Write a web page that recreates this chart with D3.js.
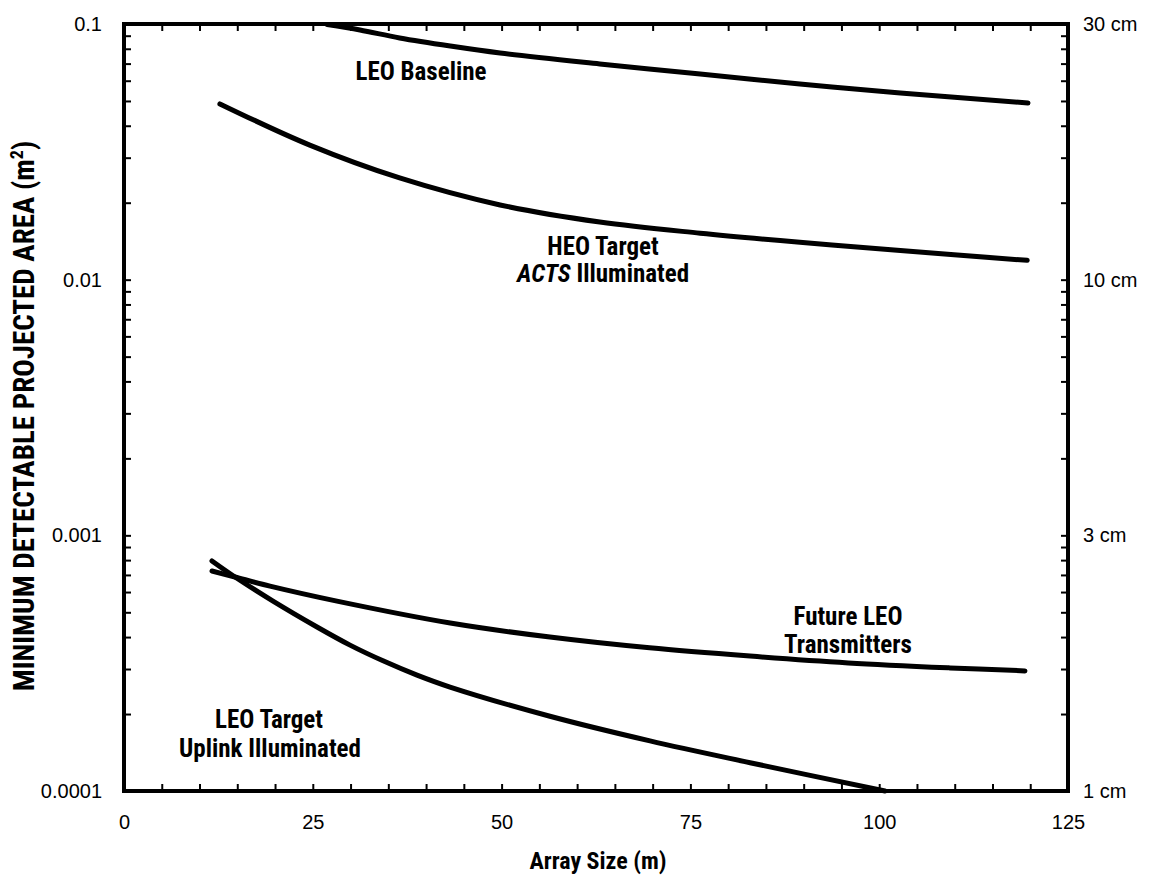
<!DOCTYPE html>
<html><head><meta charset="utf-8">
<script src="https://cdn.jsdelivr.net/npm/d3@7"></script>
<style>
body{margin:0;background:#fff}
svg{display:block}
.tick text{font-family:"Liberation Sans",Arial,sans-serif;font-size:20px;fill:#000}
.lbl{font-family:"Liberation Sans Narrow","Roboto Condensed","Liberation Sans",Arial,sans-serif;font-weight:bold;font-size:25px;fill:#000;font-stretch:condensed}
</style></head><body>
<script>
// ---- data ----
const xTicks = [0, 25, 50, 75, 100, 125];
const yTicks = [0.1, 0.01, 0.001, 0.0001];
const yTickLabels = ["0.1", "0.01", "0.001", "0.0001"];
const rightTickLabels = ["30 cm", "10 cm", "3 cm", "1 cm"];

const leoBaselineX = [26.9, 31.25, 36.5, 43.2, 49.8, 63.0, 76.3, 89.5, 102.8, 119.7];
const leoBaselineY = [0.0995, 0.0947, 0.0882, 0.0820, 0.0770, 0.0698, 0.0637, 0.0582, 0.0537, 0.0491];

const heoX = [12.7, 24.6, 36.5, 49.8, 63.0, 76.3, 89.5, 102.8, 119.6];
const heoY = [0.0487, 0.0336, 0.0250, 0.0196, 0.0168, 0.0152, 0.0140, 0.0130, 0.0119];

const futureLeoX = [11.65, 14.7, 19.33, 28.2, 43.2, 56.4, 69.6, 82.9, 95.9, 109.4, 119.3];
const futureLeoY = [0.000725, 0.000687, 0.000633, 0.000553, 0.000454, 0.000400, 0.000363, 0.000337, 0.000317, 0.000303, 0.000295];

const leoTargetX = [11.65, 14.7, 19.73, 25.56, 29.93, 34.3, 38.8, 43.17, 56.4, 69.65, 82.9, 100.77];
const leoTargetY = [0.000794, 0.000687, 0.000553, 0.000438, 0.000372, 0.000323, 0.000284, 0.000255, 0.000196, 0.000157, 0.000129, 0.0001];

const series = [
  {x: leoBaselineX, y: leoBaselineY},
  {x: heoX, y: heoY},
  {x: futureLeoX, y: futureLeoY},
  {x: leoTargetX, y: leoTargetY}
];

// ---- layout ----
const W = 1149, H = 882;
const L = 124, R = 1068, T = 24, B = 791;

const svg = d3.select("body").append("svg").attr("width", W).attr("height", H);
const x = d3.scaleLinear().domain([0, 125]).range([L, R]);
const y = d3.scaleLog().domain([0.0001, 0.1]).range([B, T]);

const minorX = d3.range(0, 126, 5);
const minorY = [];
[0.0001, 0.001, 0.01].forEach(d => { for (let k = 1; k <= 9; k++) minorY.push(d * k); });
minorY.push(0.1);

function styleAxis(g){
  g.select(".domain").remove();
  g.selectAll(".tick line").attr("stroke", "#000").attr("stroke-width", 2);
}
// bottom
svg.append("g").attr("transform", `translate(0,${B})`)
  .call(d3.axisBottom(x).tickValues(minorX).tickSize(-7).tickFormat(() => ""))
  .call(styleAxis);
svg.append("g").attr("transform", `translate(0,${B})`)
  .call(d3.axisBottom(x).tickValues(xTicks).tickSize(0).tickPadding(24).tickFormat(d3.format("d")))
  .call(g => g.select(".domain").remove());
// top
svg.append("g").attr("transform", `translate(0,${T})`)
  .call(d3.axisTop(x).tickValues(minorX).tickSize(-7).tickFormat(() => ""))
  .call(styleAxis);
// left
svg.append("g").attr("transform", `translate(${L},0)`)
  .call(d3.axisLeft(y).tickValues(minorY).tickSize(-7).tickFormat(() => ""))
  .call(styleAxis);
svg.append("g").attr("transform", `translate(${L},0)`)
  .call(d3.axisLeft(y).tickValues(yTicks).tickSize(0).tickPadding(22).tickFormat((d, i) => yTickLabels[i]))
  .call(g => g.select(".domain").remove());
// right
svg.append("g").attr("transform", `translate(${R},0)`)
  .call(d3.axisRight(y).tickValues(minorY).tickSize(-7).tickFormat(() => ""))
  .call(styleAxis);
svg.append("g").attr("transform", `translate(${R},0)`)
  .call(d3.axisRight(y).tickValues(yTicks).tickSize(0).tickPadding(15).tickFormat((d, i) => rightTickLabels[i]))
  .call(g => g.select(".domain").remove());

// frame
svg.append("rect").attr("x", L).attr("y", T).attr("width", R - L).attr("height", B - T)
  .attr("fill", "none").attr("stroke", "#000").attr("stroke-width", 4);

// curves
const line = d3.line().x(d => x(d[0])).y(d => y(d[1])).curve(d3.curveCatmullRom.alpha(0.5));
series.forEach(s => {
  const pts = s.x.map((v, i) => [v, s.y[i]]);
  svg.append("path").attr("d", line(pts)).attr("fill", "none")
    .attr("stroke", "#000").attr("stroke-width", 5).attr("stroke-linecap", "round");
});

// labels
function lbl(px, py, parts){
  const t = svg.append("text").attr("class", "lbl").attr("x", px).attr("y", py).attr("text-anchor", "middle");
  parts.forEach(p => t.append("tspan").text(p[0]).attr("font-style", p[1] ? "italic" : null));
}
lbl(421, 80, [["LEO Baseline"]]);
lbl(603, 255, [["HEO Target"]]);
lbl(603, 282, [["ACTS", true], [" Illuminated"]]);
lbl(848, 625, [["Future LEO"]]);
lbl(848, 653, [["Transmitters"]]);
lbl(269, 728, [["LEO Target"]]);
lbl(270, 757, [["Uplink Illuminated"]]);

// axis titles
svg.append("text").attr("class", "lbl").attr("x", 598).attr("y", 869).attr("text-anchor", "middle")
  .style("font-size", "24px").text("Array Size (m)");
const yt = svg.append("text").attr("class", "lbl").attr("text-anchor", "middle").style("font-size", "29px")
  .attr("transform", `translate(34,416) rotate(-90)`);
yt.append("tspan").text("MINIMUM DETECTABLE PROJECTED AREA (m");
yt.append("tspan").text("2").style("font-size", "18px").attr("dy", -11);
yt.append("tspan").text(")").attr("dy", 11);
</script>
</body></html>
